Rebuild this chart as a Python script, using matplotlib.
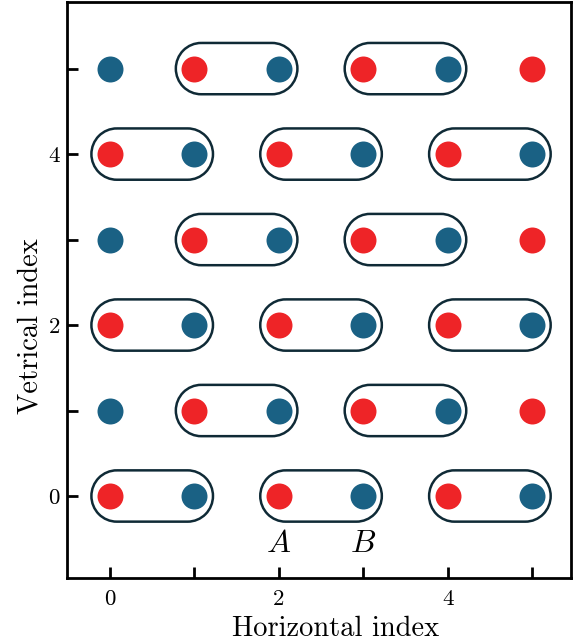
import matplotlib
matplotlib.use("Agg")
import numpy as np
import matplotlib.pyplot as plt
from matplotlib.path import Path
from matplotlib.patches import PathPatch

plt.rcParams['font.family'] = 'serif'
plt.rcParams['font.serif'] = ['cmr10']
plt.rcParams['mathtext.fontset'] = 'cm'
plt.rcParams['axes.formatter.use_mathtext'] = True

RED = '#ee2427'
BLUE = '#1a6184'
EDGE = '#0f2a36'

n_cols = 6
rows = [0, 1, 2, 3, 4, 5]
# pairs of horizontal indices that are bonded in each row
pairs_even = [(0, 1), (2, 3), (4, 5)]
pairs_odd = [(1, 2), (3, 4)]
site_labels = ['A', 'B']
label_x = [2, 3]
label_y = -0.57


def pill(x0, x1, y, r=0.3, inset=0.08):
    # stadium outline around two sites: semicircular ends joined by straight sides
    left = Path.arc(90, 270)
    right = Path.arc(-90, 90)
    lv = left.vertices * r + [x0 + inset, y]
    rv = right.vertices * r + [x1 - inset, y]
    verts = np.vstack([lv, rv, lv[:1]])
    codes = ([Path.MOVETO] + list(left.codes[1:]) +
             [Path.LINETO] + list(right.codes[1:]) + [Path.LINETO])
    return Path(verts, codes)


fig = plt.figure(figsize=(5.82, 6.43), dpi=100)
ax = fig.add_axes([0.115, 0.101, 0.866, 0.896])

for y in rows:
    even = (y % 2 == 0)
    for x in range(n_cols):
        if even:
            c = RED if x % 2 == 0 else BLUE
        else:
            c = BLUE if x % 2 == 0 else RED
        ax.scatter(x, y, s=350, color=c, zorder=3, linewidths=0)
    for a, b in (pairs_even if even else pairs_odd):
        ax.add_patch(PathPatch(pill(a, b, y), fc='none', ec=EDGE,
                               lw=1.8, zorder=2))

for lab, lx in zip(site_labels, label_x):
    ax.text(lx, label_y, '$%s$' % lab, fontsize=23, ha='center', va='center')

ax.set_xlim(-0.51, 5.46)
ax.set_ylim(-0.96, 5.78)
ax.set_xticks(range(0, 6))
ax.set_xticklabels(['0', '', '2', '', '4', ''])
ax.set_yticks(range(0, 6))
ax.set_yticklabels(['0', '', '2', '', '4', ''])
ax.tick_params(direction='in', length=8, width=2, labelsize=16.5, pad=5)
ax.tick_params(axis='x', pad=8)
for s in ax.spines.values():
    s.set_linewidth(2)
ax.set_xlabel('Horizontal index', fontsize=20.5)
ax.set_ylabel('Vetrical index', fontsize=20.5)
ax.xaxis.set_label_coords(0.532, -0.066)
ax.yaxis.set_label_coords(-0.047, 0.4375)

fig.savefig('out.png', dpi=100)
